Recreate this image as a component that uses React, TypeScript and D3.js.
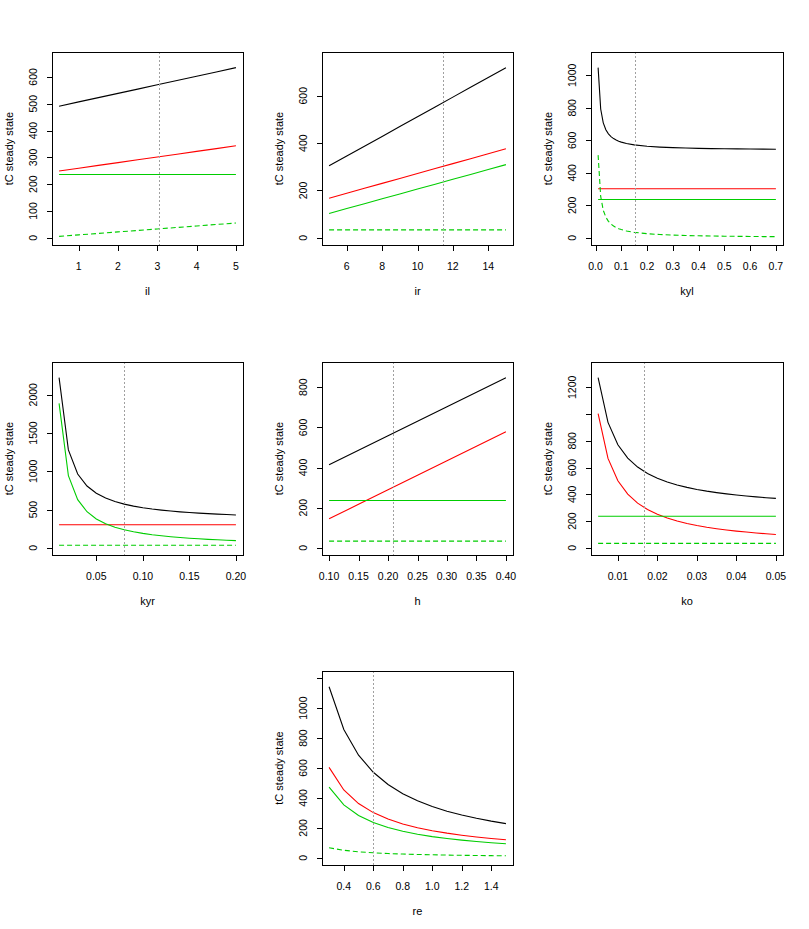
import React from "react";
import * as d3 from "d3";

// figure size and 3x3 panel grid
const W = 809;
const H = 929;
const FONT = "'Liberation Sans', Arial, sans-serif";
const FS = 10.5;

// il: leaf input
const ilValues = [0.5, 1, 1.5, 2, 2.5, 3, 3.5, 4, 4.5, 5];
const ilTotal = [490.7, 506.8, 522.7, 538.6, 554.5, 570.6, 586.5, 602.4, 618.5, 634.4];
const ilOld = [249.2, 259.7, 270.1, 280.5, 290.9, 301.4, 311.8, 322.2, 332.7, 343.1];
const ilRoot = [236, 236, 236, 236, 236, 236, 236, 236, 236, 236];
const ilLeaf = [5.5, 11.1, 16.6, 22.1, 27.6, 33.2, 38.7, 44.2, 49.8, 55.3];

// ir: root input
const irValues = [5, 6, 7, 8, 9, 10, 11, 12, 13, 14, 15];
const irTotal = [304.1, 345.5, 387.0, 428.4, 469.9, 511.4, 552.8, 594.3, 635.7, 677.2, 718.7];
const irOld = [167.5, 188.3, 209.2, 230.0, 250.9, 271.8, 292.6, 313.5, 334.3, 355.2, 376.0];
const irRoot = [103.1, 123.7, 144.3, 164.9, 185.5, 206.1, 226.7, 247.3, 267.9, 288.5, 309.2];
const irLeaf = [33.5, 33.5, 33.5, 33.5, 33.5, 33.5, 33.5, 33.5, 33.5, 33.5, 33.5];

// kyl: young leaf decay rate
const kylValues = [0.01, 0.02, 0.03, 0.04, 0.05, 0.06, 0.07, 0.08, 0.09, 0.1, 0.12, 0.15, 0.2, 0.25, 0.3, 0.35, 0.4, 0.45, 0.5, 0.55, 0.6, 0.65, 0.7];
const kylTotal = [1047.2, 792.6, 707.7, 665.3, 639.8, 622.9, 610.7, 601.7, 594.6, 588.9, 580.4, 571.9, 563.5, 558.4, 555.0, 552.5, 550.7, 549.3, 548.2, 547.3, 546.5, 545.8, 545.3];
const kylOld = [302, 302, 302, 302, 302, 302, 302, 302, 302, 302, 302, 302, 302, 302, 302, 302, 302, 302, 302, 302, 302, 302, 302];
const kylRoot = [236, 236, 236, 236, 236, 236, 236, 236, 236, 236, 236, 236, 236, 236, 236, 236, 236, 236, 236, 236, 236, 236, 236];
const kylLeaf = [509.2, 254.6, 169.7, 127.3, 101.8, 84.9, 72.7, 63.7, 56.6, 50.9, 42.4, 33.9, 25.5, 20.4, 17.0, 14.5, 12.7, 11.3, 10.2, 9.3, 8.5, 7.8, 7.3];

// kyr: young root decay rate
const kyrValues = [0.01, 0.02, 0.03, 0.04, 0.05, 0.06, 0.07, 0.08, 0.09, 0.1, 0.11, 0.12, 0.13, 0.14, 0.15, 0.16, 0.17, 0.18, 0.19, 0.2];
const kyrTotal = [2223.5, 1279.5, 964.8, 807.5, 713.1, 650.2, 605.2, 571.5, 545.3, 524.3, 507.1, 492.8, 480.7, 470.4, 461.4, 453.5, 446.6, 440.4, 434.9, 429.9];
const kyrOld = [302, 302, 302, 302, 302, 302, 302, 302, 302, 302, 302, 302, 302, 302, 302, 302, 302, 302, 302, 302];
const kyrRoot = [1888, 944, 629.3, 472, 377.6, 314.7, 269.7, 236, 209.8, 188.8, 171.6, 157.3, 145.2, 134.9, 125.9, 118, 111.1, 104.9, 99.4, 94.4];
const kyrLeaf = [33.5, 33.5, 33.5, 33.5, 33.5, 33.5, 33.5, 33.5, 33.5, 33.5, 33.5, 33.5, 33.5, 33.5, 33.5, 33.5, 33.5, 33.5, 33.5, 33.5];

// h: humification coefficient
const hValues = [0.1, 0.15, 0.2, 0.25, 0.3, 0.35, 0.4];
const hTotal = [414.0, 486.2, 558.5, 630.7, 703.0, 775.2, 847.5];
const hOld = [144.5, 216.7, 289.0, 361.2, 433.5, 505.7, 578.0];
const hRoot = [236, 236, 236, 236, 236, 236, 236];
const hLeaf = [33.5, 33.5, 33.5, 33.5, 33.5, 33.5, 33.5];

// ko: old pool decay rate
const koValues = [0.005, 0.0075, 0.01, 0.0125, 0.015, 0.0175, 0.02, 0.0225, 0.025, 0.0275, 0.03, 0.0325, 0.035, 0.0375, 0.04, 0.0425, 0.045, 0.0475, 0.05];
const koTotal = [1272.1, 937.9, 770.8, 670.6, 603.7, 556.0, 520.2, 492.3, 470.0, 451.8, 436.6, 423.8, 412.7, 403.2, 394.8, 387.5, 380.9, 375.0, 369.8];
const koOld = [1002.6, 668.4, 501.3, 401.1, 334.2, 286.5, 250.7, 222.8, 200.5, 182.3, 167.1, 154.3, 143.2, 133.7, 125.3, 118.0, 111.4, 105.5, 100.3];
const koRoot = [236, 236, 236, 236, 236, 236, 236, 236, 236, 236, 236, 236, 236, 236, 236, 236, 236, 236, 236];
const koLeaf = [33.5, 33.5, 33.5, 33.5, 33.5, 33.5, 33.5, 33.5, 33.5, 33.5, 33.5, 33.5, 33.5, 33.5, 33.5, 33.5, 33.5, 33.5, 33.5];

// re: climate factor
const reValues = [0.3, 0.4, 0.5, 0.6, 0.7, 0.8, 0.9, 1.0, 1.1, 1.2, 1.3, 1.4, 1.5];
const reTotal = [1143.0, 857.3, 685.8, 571.5, 489.9, 428.6, 381.0, 342.9, 311.7, 285.8, 263.8, 244.9, 228.6];
const reOld = [604.0, 453.0, 362.4, 302.0, 258.9, 226.5, 201.3, 181.2, 164.7, 151.0, 139.4, 129.4, 120.8];
const reRoot = [472.0, 354.0, 283.2, 236.0, 202.3, 177.0, 157.3, 141.6, 128.7, 118.0, 108.9, 101.1, 94.4];
const reLeaf = [67.0, 50.3, 40.2, 33.5, 28.7, 25.1, 22.3, 20.1, 18.3, 16.8, 15.5, 14.4, 13.4];

// reference parameter values (dotted vertical line)
const paramNames = ["il", "ir", "kyl", "kyr", "h", "ko", "re"];
const paramDefaults = [3.03, 11.45, 0.152, 0.08, 0.209, 0.0166, 0.6];

// axis ticks
const xTickSets = [
  [1, 2, 3, 4, 5],
  [6, 8, 10, 12, 14],
  [0, 0.1, 0.2, 0.3, 0.4, 0.5, 0.6, 0.7],
  [0.05, 0.1, 0.15, 0.2],
  [0.1, 0.15, 0.2, 0.25, 0.3, 0.35, 0.4],
  [0.01, 0.02, 0.03, 0.04, 0.05],
  [0.4, 0.6, 0.8, 1.0, 1.2, 1.4],
];
const xTickDigits = [0, 0, 1, 2, 2, 2, 1];
const yTickSets = [
  [0, 100, 200, 300, 400, 500, 600],
  [0, 200, 400, 600],
  [0, 200, 400, 600, 800, 1000],
  [0, 500, 1000, 1500, 2000],
  [0, 200, 400, 600, 800],
  [0, 200, 400, 600, 800, 1000, 1200],
  [0, 200, 400, 600, 800, 1000, 1200],
];

const xSeries = [ilValues, irValues, kylValues, kyrValues, hValues, koValues, reValues];
const totalSeries = [ilTotal, irTotal, kylTotal, kyrTotal, hTotal, koTotal, reTotal];
const oldSeries = [ilOld, irOld, kylOld, kyrOld, hOld, koOld, reOld];
const rootSeries = [ilRoot, irRoot, kylRoot, kyrRoot, hRoot, koRoot, reRoot];
const leafSeries = [ilLeaf, irLeaf, kylLeaf, kyrLeaf, hLeaf, koLeaf, reLeaf];

const GREEN = "#00cd00";
const cellW = W / 3;
const cellH = H / 3;
const snap = (v: number) => Math.round(v) + 0.5;

// rough label width, used to drop overlapping labels like R's axis()
const labelWidth = (s: string) =>
  s.split("").reduce((w, ch) => w + (ch === "." ? 0.278 : 0.556) * FS, 0);

function keepLabels(pos: number[], labels: string[]) {
  const gap = 0.72 * FS;
  const keep: boolean[] = [];
  let lastEdge = -Infinity;
  pos.forEach((p, i) => {
    const half = labelWidth(labels[i]) / 2;
    const lo = p - half;
    if (lo >= lastEdge + gap) {
      keep.push(true);
      lastEdge = p + half;
    } else keep.push(false);
  });
  return keep;
}

function Panel({ idx, row, col }: { idx: number; row: number; col: number }) {
  const xs = xSeries[idx];
  const x0 = Math.round(col * cellW + 52);
  const x1 = Math.round((col + 1) * cellW - 26.5);
  const y0 = Math.round(row * cellH + 52);
  const y1 = Math.round((row + 1) * cellH - 64.5);

  const xMin = d3.min(xs)!;
  const xMax = d3.max(xs)!;
  const xPad = (xMax - xMin) * 0.04;
  const x = d3.scaleLinear().domain([xMin - xPad, xMax + xPad]).range([x0, x1]);

  const yTop = d3.max(totalSeries[idx])! * 1.05;
  const yPad = yTop * 0.04;
  const y = d3.scaleLinear().domain([-yPad, yTop + yPad]).range([y1, y0]);

  const line = (vals: number[]) =>
    d3.line<number>().x((_, i) => x(xs[i])).y((v) => y(v))(vals) || "";

  const xTicks = xTickSets[idx];
  const xLabels = xTicks.map((t) => t.toFixed(xTickDigits[idx]));
  const xKeep = keepLabels(xTicks.map((t) => x(t)), xLabels);
  const yTicks = yTickSets[idx];
  const yLabels = yTicks.map((t) => String(t));
  // y labels read bottom to top, so order positions upward
  const yKeep = keepLabels(yTicks.map((t) => -y(t)), yLabels);

  const xv = snap(x(paramDefaults[idx]));
  const yMid = (y0 + y1) / 2;

  return (
    <g>
      <g fill="none" strokeWidth={1.1}>
        <path d={line(totalSeries[idx])} stroke="#000" />
        <path d={line(oldSeries[idx])} stroke="#ff0000" />
        <path d={line(rootSeries[idx])} stroke={GREEN} />
        <path d={line(leafSeries[idx])} stroke={GREEN} strokeDasharray="5,3" />
      </g>
      <line x1={xv} x2={xv} y1={y0} y2={y1} stroke="#a0a0a0" strokeWidth={1} strokeDasharray="2,2" />

      <rect
        x={x0 + 0.5}
        y={y0 + 0.5}
        width={x1 - x0}
        height={y1 - y0}
        fill="none"
        stroke="#000"
        strokeWidth={1}
      />

      {xTicks.map((t, i) => (
        <g key={"x" + i}>
          <line x1={snap(x(t))} x2={snap(x(t))} y1={y1} y2={y1 + 6} stroke="#000" />
          {xKeep[i] && (
            <text x={x(t)} y={y1 + 25} textAnchor="middle" fontSize={FS} fontFamily={FONT}>
              {xLabels[i]}
            </text>
          )}
        </g>
      ))}
      {yTicks.map((t, i) => (
        <g key={"y" + i}>
          <line x1={x0 - 5} x2={x0} y1={snap(y(t))} y2={snap(y(t))} stroke="#000" />
          {yKeep[i] && (
            <text
              transform={`translate(${x0 - 15.5},${y(t)}) rotate(-90)`}
              textAnchor="middle"
              fontSize={FS}
              fontFamily={FONT}
            >
              {yLabels[i]}
            </text>
          )}
        </g>
      ))}

      <text x={(x0 + x1) / 2} y={y1 + 50} textAnchor="middle" fontSize={FS + 0.5} fontFamily={FONT}>
        {paramNames[idx]}
      </text>
      <text
        transform={`translate(${x0 - 39},${yMid}) rotate(-90)`}
        textAnchor="middle"
        fontSize={FS + 0.5}
        fontFamily={FONT}
      >
        tC steady state
      </text>
    </g>
  );
}

const layout = [
  [0, 0],
  [0, 1],
  [0, 2],
  [1, 0],
  [1, 1],
  [1, 2],
  [2, 1],
];

export default function App() {
  return (
    <div style={{ position: "fixed", left: 0, top: 0 }}>
      <svg width={W} height={H} style={{ display: "block", background: "#fff" }}>
        <rect x={0} y={0} width={W} height={H} fill="#fff" />
        {layout.map(([r, c], i) => (
          <Panel key={i} idx={i} row={r} col={c} />
        ))}
      </svg>
    </div>
  );
}
